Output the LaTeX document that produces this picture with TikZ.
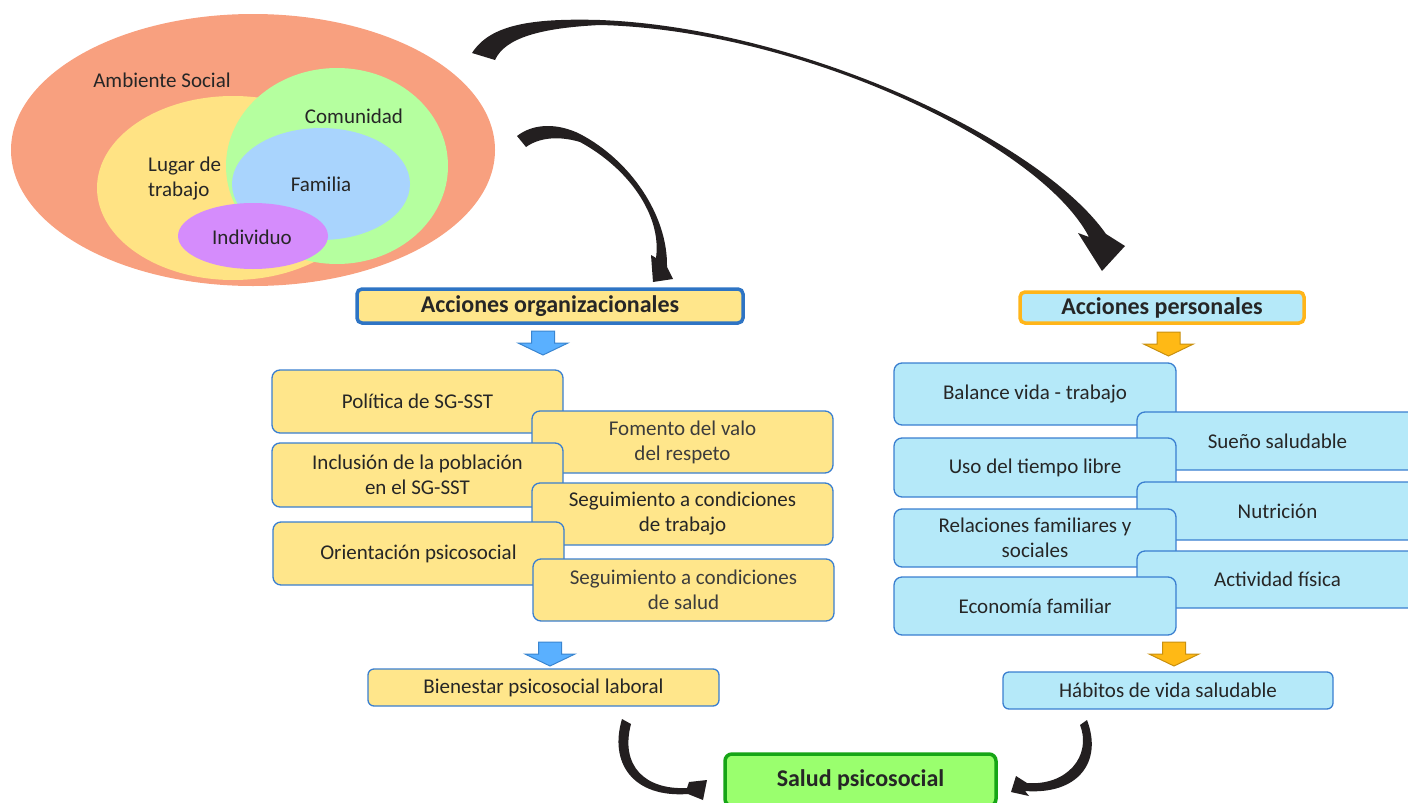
\documentclass[tikz,border=0pt]{standalone}
\usepackage{fontspec}
\setmainfont{Carlito}
\usetikzlibrary{shapes.geometric}

\definecolor{txt}{HTML}{262626}
\definecolor{txtlight}{HTML}{3C3C3C}
\definecolor{salmon}{HTML}{F8A07F}
\definecolor{lugar}{HTML}{FFE384}
\definecolor{comun}{HTML}{B5FF9F}
\definecolor{famil}{HTML}{A9D4FD}
\definecolor{indiv}{HTML}{D58CFC}
\definecolor{boxYellow}{HTML}{FFE68B}
\definecolor{boxBlue}{HTML}{B5E9F9}
\definecolor{boxLine}{HTML}{3A7FD0}
\definecolor{headBlue}{HTML}{2E74C4}
\definecolor{headOrange}{HTML}{FFB51A}
\definecolor{saludLine}{HTML}{16A516}
\definecolor{saludFill}{HTML}{9AFF6E}
\definecolor{arrBlue}{HTML}{5AB0FF}
\definecolor{arrBlueLine}{HTML}{3A85D0}
\definecolor{arrOrange}{HTML}{FFB915}
\definecolor{arrOrangeLine}{HTML}{C89010}
\definecolor{swooshBlack}{HTML}{231F20}

\begin{document}
\begin{tikzpicture}[x=1pt,y=-1pt,
  blob/.style={ellipse, inner sep=0pt},
  lbl/.style={font=\fontsize{21}{25}\selectfont, text=txt, align=center, inner sep=0pt},
  boxbase/.style={rectangle, rounded corners=8pt, draw=boxLine, line width=1.3pt,
    text=txt, font=\fontsize{21}{25}\selectfont, align=center, inner sep=0pt},
  orgbox/.style={boxbase, fill=boxYellow},
  perbox/.style={boxbase, fill=boxBlue},
  headbox/.style={rectangle, rounded corners=5pt, line width=3.5pt, text=txt,
    font=\bfseries\fontsize{24}{28}\selectfont, inner sep=0pt},
  swoosh/.style={fill=swooshBlack},
  downarr/.pic={\path[pic actions] (-11.5,0) -- (11.5,0) -- (11.5,12) -- (25,12)
    -- (0,24) -- (-25,12) -- (-11.5,12) -- cycle;}
]
\useasboundingbox (0,0) rectangle (1408,803);

% nested social environments
\node[blob, fill=salmon, minimum width=484pt, minimum height=272pt] (amb) at (253,150) {};
\node[blob, fill=lugar, minimum width=272pt, minimum height=184pt] (lug) at (233,188) {};
\node[blob, fill=comun, minimum width=222pt, minimum height=196pt] (com) at (337,166) {};
\node[blob, fill=famil, minimum width=178pt, minimum height=112pt] (fam) at (321,184) {};
\node[blob, fill=indiv, minimum width=150pt, minimum height=66pt] (ind) at (253,236) {};

\node[lbl] (tamb) at (162,80) {Ambiente Social};
\node[lbl, align=left, anchor=west] (tlug) at (148,179) {Lugar de\\trabajo};
\node[lbl] (tcom) at (354,116) {Comunidad};
\node[lbl] (tfam) at (321,184) {Familia};
\node[lbl] (tind) at (252,237) {Individuo};

% long swoosh towards personal actions
\fill[swoosh] (472,53) .. controls (490,25) and (530,18) .. (600,20)
  .. controls (800,28) and (1040,140) .. (1106,234)
  -- (1125,246) -- (1102,271) -- (1078,233) -- (1089,237)
  .. controls (1040,143) and (800,30) .. (600,25)
  .. controls (540,28) and (505,38) .. (495,60) -- cycle;

% short swoosh towards organisational actions
\fill[swoosh] (517,136) .. controls (535,122) and (560,124) .. (580,134)
  .. controls (630,160) and (668,215) .. (667,267)
  -- (673,279) -- (653,282) -- (651,255) -- (656,258)
  .. controls (662,215) and (628,168) .. (580,142)
  .. controls (560,136) and (540,137) .. (526,147) -- cycle;

% headers
\node[headbox, draw=headBlue, fill=boxYellow, minimum width=386pt, minimum height=34pt]
  (org) at (550,306) {Acciones organizacionales};
\node[headbox, draw=headOrange, fill=boxBlue, minimum width=284pt, minimum height=31pt]
  (per) at (1162,307.5) {Acciones personales};

\pic[fill=arrBlue, draw=arrBlueLine, line width=1pt] at (543,331) {downarr};
\pic[fill=arrOrange, draw=arrOrangeLine, line width=1pt] at (1168.5,332) {downarr};

% organisational actions
\node[orgbox, minimum width=291pt, minimum height=63pt] (pol) at (417.5,401.5) {Política de SG-SST};
\node[orgbox, minimum width=301pt, minimum height=62pt, text=txtlight] (fom) at (682.5,442) {Fomento del valo\\del respeto};
\node[orgbox, minimum width=291pt, minimum height=64pt] (inc) at (417.5,475) {Inclusión de la población\\en el SG-SST};
\node[orgbox, minimum width=301pt, minimum height=62pt] (segt) at (682.5,514) {Seguimiento a condiciones\\de trabajo};
\node[orgbox, minimum width=291pt, minimum height=63pt] (ori) at (418.5,553.5) {Orientación psicosocial};
\node[orgbox, minimum width=301pt, minimum height=62pt, text=txtlight] (segs) at (683.5,590) {Seguimiento a condiciones\\de salud};

% personal actions
\node[perbox, minimum width=282pt, minimum height=62pt] (bal) at (1035,394) {Balance vida - trabajo};
\node[perbox, minimum width=281pt, minimum height=58pt] (sue) at (1277.5,441) {Sueño saludable};
\node[perbox, minimum width=282pt, minimum height=59pt] (uso) at (1035,467.5) {Uso del tiempo libre};
\node[perbox, minimum width=281pt, minimum height=58pt] (nut) at (1277.5,511) {Nutrición};
\node[perbox, minimum width=282pt, minimum height=58pt] (rel) at (1035,538) {Relaciones familiares y\\sociales};
\node[perbox, minimum width=281pt, minimum height=57pt] (act) at (1277.5,579.5) {Actividad física};
\node[perbox, minimum width=282pt, minimum height=58pt] (eco) at (1035,606) {Economía familiar};

\pic[fill=arrBlue, draw=arrBlueLine, line width=1pt] at (550,642) {downarr};
\pic[fill=arrOrange, draw=arrOrangeLine, line width=1pt] at (1174,642) {downarr};

% outcomes
\node[orgbox, rounded corners=6pt, minimum width=351pt, minimum height=37pt] (bien) at (543.5,687.5) {Bienestar psicosocial laboral};
\node[perbox, rounded corners=6pt, minimum width=330pt, minimum height=37pt] (hab) at (1168,690.5) {Hábitos de vida saludable};
\node[headbox, draw=saludLine, fill=saludFill, rounded corners=7pt, minimum width=271pt, minimum height=52pt]
  (sal) at (860.5,780) {Salud psicosocial};

% swooshes into the final outcome
\fill[swoosh] (622,719) .. controls (609,762) and (632,798) .. (688,794)
  -- (703,800) -- (707,780) -- (689,782) -- (687,788)
  .. controls (645,790) and (620,766) .. (631,724) -- cycle;
\fill[swoosh] (1087,720) .. controls (1103,762) and (1078,795) .. (1025,791)
  -- (1029,796) -- (1011,792) -- (1016,776) -- (1027,783)
  .. controls (1067,786) and (1092,756) .. (1080,725) -- cycle;
\end{tikzpicture}
\end{document}
